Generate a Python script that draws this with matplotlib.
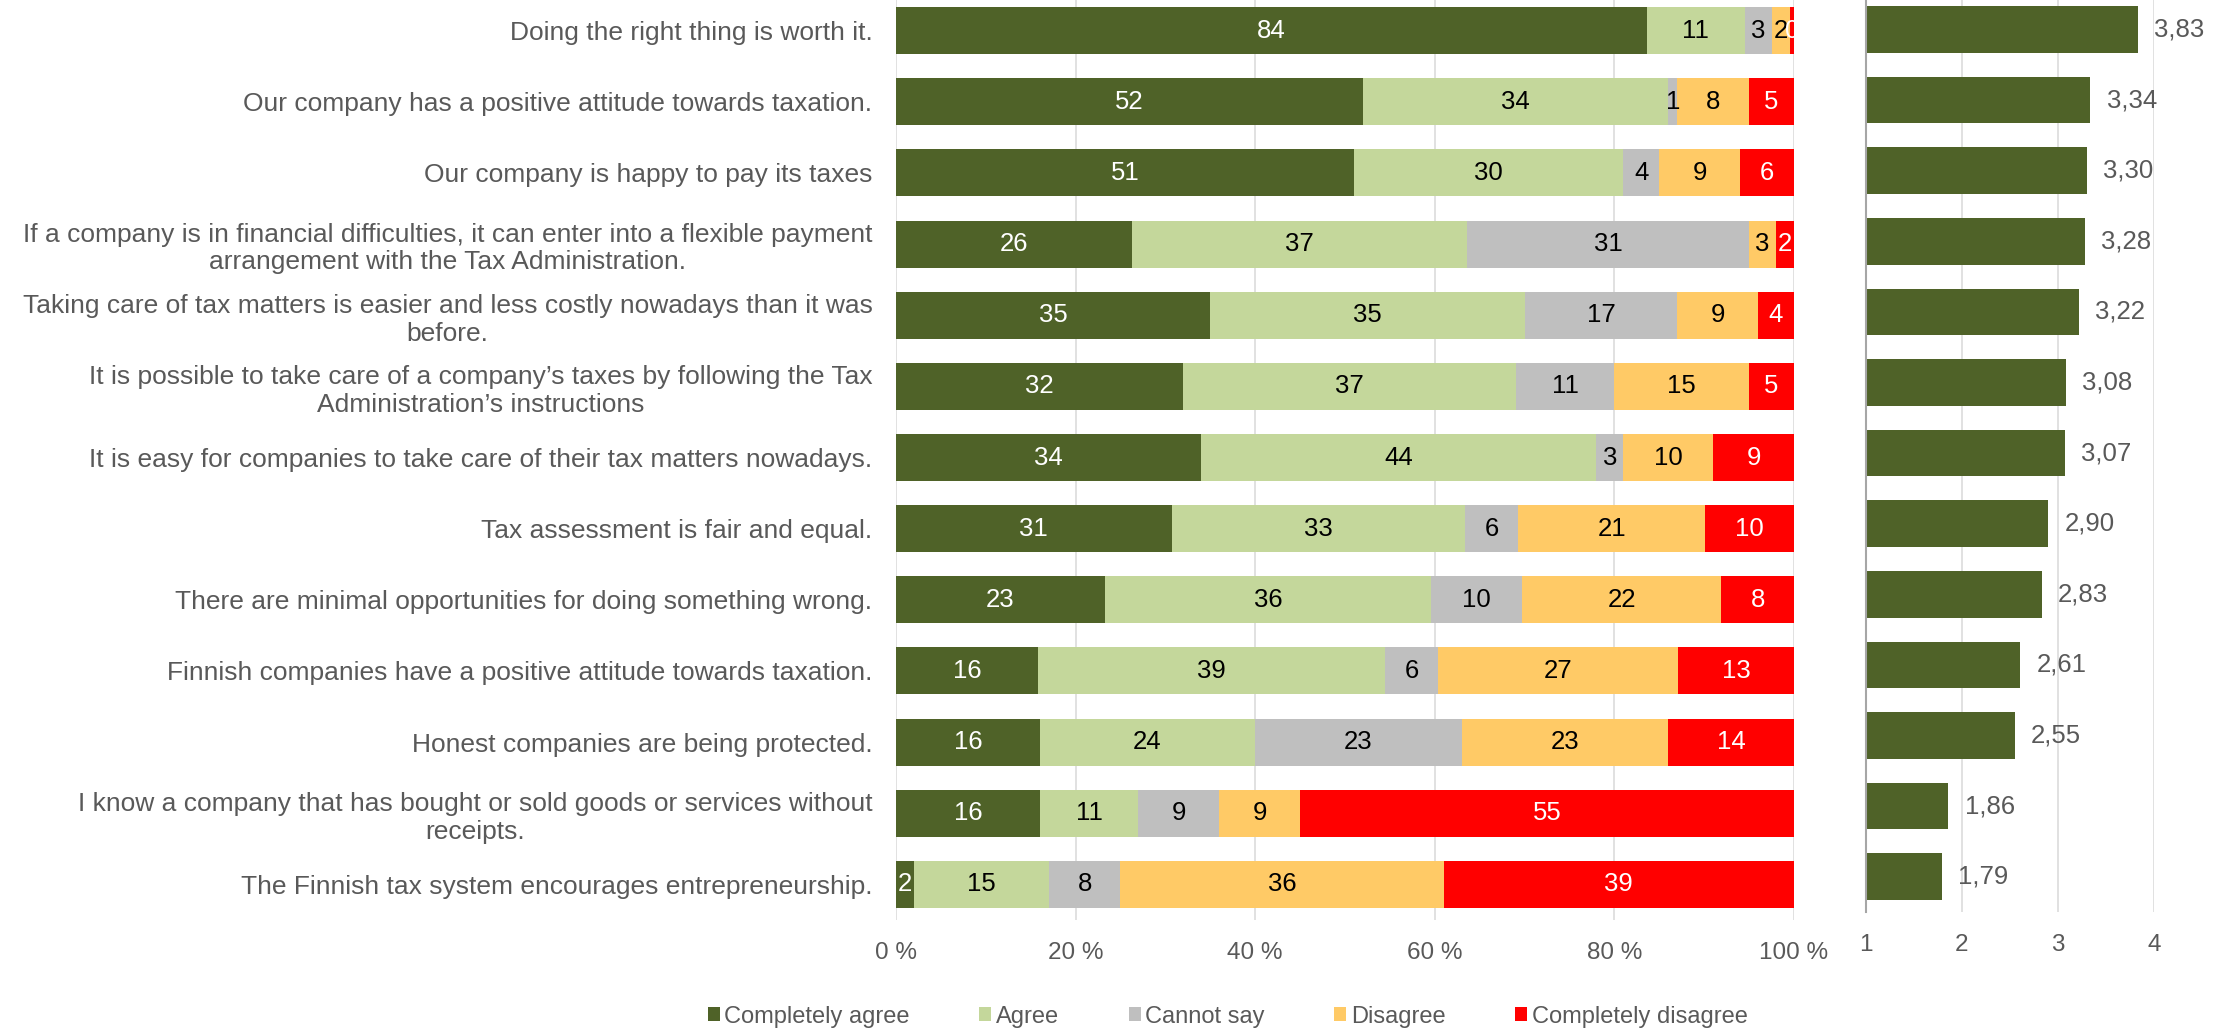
import numpy as np
import matplotlib
matplotlib.use("Agg")
import matplotlib.pyplot as plt
from matplotlib.patches import Patch

plt.rcParams['font.family'] = ['Liberation Sans', 'DejaVu Sans']

statements = [
    "Doing the right thing is worth it.",
    "Our company has a positive attitude towards taxation.",
    "Our company is happy to pay its taxes",
    "If a company is in financial difficulties, it can enter into a flexible payment\narrangement with the Tax Administration.",
    "Taking care of tax matters is easier and less costly nowadays than it was\nbefore.",
    "It is possible to take care of a company\u2019s taxes by following the Tax\nAdministration\u2019s instructions",
    "It is easy for companies to take care of their tax matters nowadays.",
    "Tax assessment is fair and equal.",
    "There are minimal opportunities for doing something wrong.",
    "Finnish companies have a positive attitude towards taxation.",
    "Honest companies are being protected.",
    "I know a company that has bought or sold goods or services without\nreceipts.",
    "The Finnish tax system encourages entrepreneurship.",
]

completely_agree = [84, 52, 51, 26, 35, 32, 34, 31, 23, 16, 16, 16, 2]
agree = [11, 34, 30, 37, 35, 37, 44, 33, 36, 39, 24, 11, 15]
cannot_say = [3, 1, 4, 31, 17, 11, 3, 6, 10, 6, 23, 9, 8]
disagree = [2, 8, 9, 3, 9, 15, 10, 21, 22, 27, 23, 9, 36]
completely_disagree = [0.5, 5, 6, 2, 4, 5, 9, 10, 8, 13, 14, 55, 39]

mean_scores = [3.83, 3.34, 3.30, 3.28, 3.22, 3.08, 3.07, 2.90, 2.83, 2.61, 2.55, 1.86, 1.79]

series_names = ["Completely agree", "Agree", "Cannot say", "Disagree", "Completely disagree"]
colors = ["#4F6228", "#C4D79B", "#BFBFBF", "#FFCA66", "#FF0000"]
text_colors = ["white", "black", "black", "black", "white"]
grey_text = "#595959"
grid_color = "#D9D9D9"

raw = np.array([completely_agree, agree, cannot_say, disagree, completely_disagree], dtype=float)
shares = raw / raw.sum(axis=0) * 100  # 100 % stacked
y = np.arange(len(statements))

fig = plt.figure(figsize=(22.2, 10.3), dpi=100)
ax = fig.add_axes([0.4036, 0.1068, 0.4045, 0.898])
ax2 = fig.add_axes([0.8405, 0.1146, 0.1297, 0.891])

# stacked percentage bars
left = np.zeros(len(statements))
for vals, pct, name, col, tcol in zip(raw, shares, series_names, colors, text_colors):
    ax.barh(y, pct, left=left, height=0.66, color=col, label=name, zorder=2)
    for yi, v, p, l0 in zip(y, vals, pct, left):
        ax.text(l0 + p / 2, yi, f"{v:.0f}", ha='center', va='center',
                fontsize=18.5, color=tcol, zorder=3)
    left += pct

ax.set_xlim(0, 100)
ax.set_ylim(len(statements) - 0.5, -0.5)
ax.set_xticks(np.arange(0, 101, 20))
ax.set_xticklabels([f"{t} %" for t in range(0, 101, 20)])
ax.set_yticks(y)
ax.set_yticklabels(statements, multialignment='center')
ax.tick_params(axis='x', length=0, pad=16, labelsize=17.5, labelcolor=grey_text)
ax.tick_params(axis='y', length=0, pad=17, labelsize=19, labelcolor=grey_text)
ax.grid(axis='x', color=grid_color, linewidth=1.1, zorder=0)
for s in ax.spines.values():
    s.set_visible(False)

# mean score bars
ax2.barh(y, mean_scores, height=0.66, color=colors[0], zorder=2)
for yi, v in zip(y, mean_scores):
    ax2.text(v + 0.17, yi, f"{v:.2f}".replace('.', ','), ha='left', va='center',
             fontsize=18.5, color=grey_text, clip_on=False)
ax2.set_xlim(1, 4)
ax2.set_ylim(len(statements) - 0.5, -0.5)
ax2.set_xticks([1, 2, 3, 4])
ax2.set_yticks([])
ax2.tick_params(axis='x', length=0, pad=16, labelsize=17.5, labelcolor=grey_text)
ax2.grid(axis='x', color=grid_color, linewidth=1.1, zorder=0)
for s in ax2.spines.values():
    s.set_visible(False)
ax2.spines['left'].set_visible(True)
ax2.spines['left'].set_color("#A6A6A6")
ax2.spines['left'].set_linewidth(1.5)

handles = [Patch(facecolor=c, label=n) for c, n in zip(colors, series_names)]
fig.legend(handles=handles, loc='center', bbox_to_anchor=(0.553, 0.013), ncol=5,
           frameon=False, fontsize=17, labelcolor=grey_text,
           handlelength=0.5, handleheight=0.5, handletextpad=0.2, columnspacing=2.95)

fig.savefig("out.png", dpi=100)
